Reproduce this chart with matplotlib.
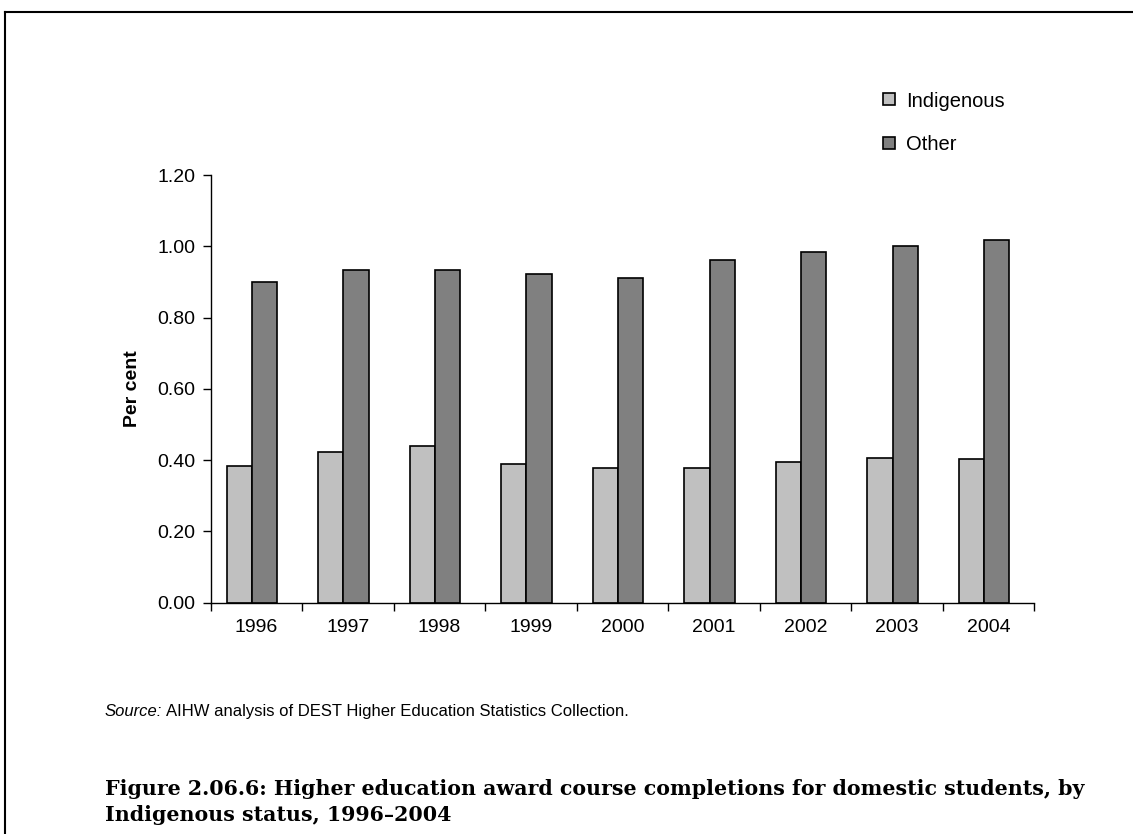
import numpy as np
import matplotlib
matplotlib.use("Agg")
import matplotlib.pyplot as plt
from matplotlib.lines import Line2D

years = ['1996', '1997', '1998', '1999', '2000', '2001', '2002', '2003', '2004']
indigenous = [0.384, 0.423, 0.440, 0.390, 0.379, 0.379, 0.394, 0.406, 0.402]
other = [0.901, 0.934, 0.934, 0.922, 0.911, 0.962, 0.985, 1.001, 1.018]
yticks = [0.0, 0.2, 0.4, 0.6, 0.8, 1.0, 1.2]

plt.rcParams['font.family'] = ['Liberation Sans', 'DejaVu Sans']

fig = plt.figure(figsize=(11.33, 8.34), dpi=100)
ax = fig.add_axes([0.186, 0.2775, 0.727, 0.5126])

x = np.arange(len(years))
w = 0.275
ax.bar(x - w/2 - 0.05, indigenous, w, color='#C0C0C0', edgecolor='black', linewidth=1.2, label='Indigenous')
ax.bar(x + w/2 - 0.05, other, w, color='#808080', edgecolor='black', linewidth=1.2, label='Other')

ax.set_xlim(-0.5, len(years) - 0.5)
ax.set_ylim(0, 1.2)
ax.set_yticks(yticks)
ax.set_yticklabels(['%.2f' % v for v in yticks], fontsize=14)
# ticks sit on the category boundaries, labels in the middle
ax.set_xticks(np.arange(len(years) + 1) - 0.5)
ax.set_xticklabels([])
ax.set_xticks(x, minor=True)
ax.set_xticklabels(years, minor=True, fontsize=14)
ax.tick_params(axis='x', which='major', length=6, width=1, direction='out')
ax.tick_params(axis='x', which='minor', length=0, pad=12)
ax.tick_params(axis='y', length=6, width=1, direction='out', pad=5)
for s in ['top', 'right']:
    ax.spines[s].set_visible(False)
ax.spines['left'].set_linewidth(1)
ax.spines['bottom'].set_linewidth(1)
ax.set_ylabel('Per cent', fontsize=14, fontweight='bold', labelpad=12)

handles = [Line2D([0], [0], marker='s', linestyle='none', markersize=9,
                  markerfacecolor=c, markeredgecolor='black', markeredgewidth=1.2)
           for c in ['#C0C0C0', '#808080']]
fig.legend(handles, ['Indigenous', 'Other'], loc='upper left', bbox_to_anchor=(0.76, 0.912),
           frameon=False, fontsize=14.5, handlelength=1.0, handletextpad=0.35, labelspacing=1.2)

# outer frame (left and top edges)
fig.add_artist(Line2D([5/1133, 5/1133], [0, 1 - 12/834], color='black', lw=1.5, transform=fig.transFigure))
fig.add_artist(Line2D([5/1133, 1], [1 - 12/834, 1 - 12/834], color='black', lw=1.5, transform=fig.transFigure))

# source note
t = fig.text(105/1133, 1 - 716/834, 'Source:', fontsize=12, style='italic', va='baseline')
fig.canvas.draw()
bb = t.get_window_extent(fig.canvas.get_renderer())
fig.text(bb.x1 / fig.bbox.width + 0.003, 1 - 716/834,
         'AIHW analysis of DEST Higher Education Statistics Collection.', fontsize=12, va='baseline')

fig.text(105/1133, 1 - 779/834,
         'Figure 2.06.6: Higher education award course completions for domestic students, by\n'
         'Indigenous status, 1996\u20132004',
         fontsize=14.8, fontweight='bold', family=['DejaVu Serif'],
         va='top', linespacing=1.35)

fig.savefig('out.png', dpi=100)
